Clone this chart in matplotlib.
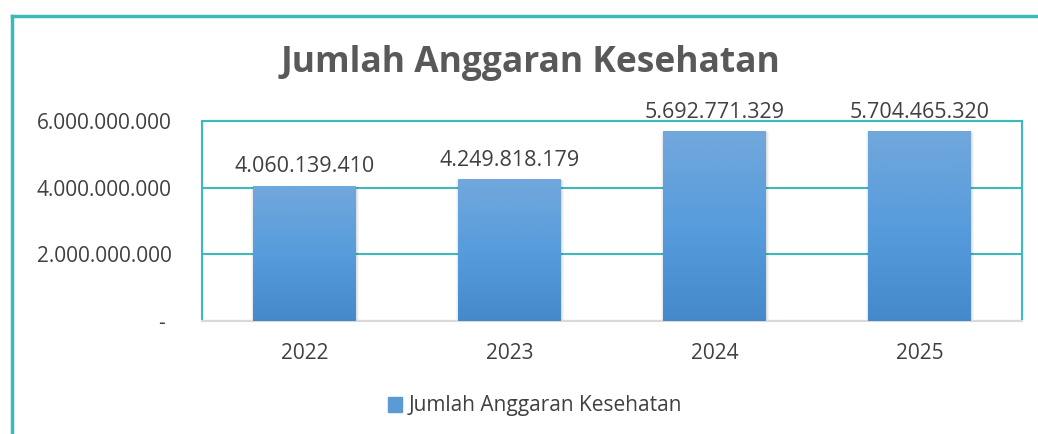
import matplotlib.pyplot as plt
import matplotlib.patches as mpatches
import numpy as np
from matplotlib.colors import LinearSegmentedColormap

years = ['2022', '2023', '2024', '2025']
anggaran = [4060139410, 4249818179, 5692771329, 5704465320]
yticks = [0, 2000000000, 4000000000, 6000000000]
ytick_labels = ['- ', '2.000.000.000', '4.000.000.000', '6.000.000.000']

teal = '#3DB8BC'
text_gray = '#404040'

plt.rcParams['font.family'] = ['Open Sans', 'DejaVu Sans']

fig = plt.figure(figsize=(10.38, 4.34), dpi=100)

# outer frame (left and top only)
fig.add_artist(plt.Line2D([12 / 1038, 12 / 1038], [0, 1 - 16 / 434], color=teal, lw=2.5))
fig.add_artist(plt.Line2D([12 / 1038, 1], [1 - 16 / 434, 1 - 16 / 434], color=teal, lw=2.5))

ax = fig.add_axes([202 / 1038, 1 - 321 / 434, 820 / 1038, 200 / 434])
x = np.arange(len(years))
bars = ax.bar(x, anggaran, width=0.5, color='#5B9BD5', zorder=3)

cmap = LinearSegmentedColormap.from_list('grad', ['#4589CB', '#579CDC', '#72A8DC'])
grad = np.linspace(0, 1, 256).reshape(-1, 1)
for b in bars:
    bx, by = b.get_x(), b.get_y()
    w, h = b.get_width(), b.get_height()
    # soft shadow around the bar
    for k, a in [(0.022, 0.035), (0.014, 0.045), (0.007, 0.06)]:
        ax.add_patch(mpatches.Rectangle((bx - k * 0.5, by), w + k * 1.3, h - 30000000, color='#000000',
                                        alpha=a, zorder=2, lw=0))
    im = ax.imshow(grad, cmap=cmap, aspect='auto', extent=(bx, bx + w, by, by + h),
                   origin='lower', zorder=4)
    im.set_clip_path(b)

for xi, v in zip(x, anggaran):
    label = f'{v:,}'.replace(',', '.')
    ax.annotate(label, (xi, v), xytext=(0, 6), textcoords='offset points', ha='center', va='bottom',
                fontsize=15.5, color=text_gray, annotation_clip=False)

ax.set_xlim(-0.5, len(years) - 0.5)
ax.set_ylim(0, 6000000000)
ax.set_xticks(x)
ax.set_xticklabels(years, fontsize=15, color=text_gray)
ax.set_yticks(yticks)
ax.set_yticklabels(ytick_labels, fontsize=15, color=text_gray)
ax.tick_params(length=0, pad=22)
ax.tick_params(axis='x', pad=16)
ax.grid(axis='y', color=teal, lw=1.5, zorder=1)

for side in ['left', 'right', 'top']:
    ax.spines[side].set_color(teal)
    ax.spines[side].set_linewidth(1.5)
ax.spines['bottom'].set_color('#D9D9D9')
ax.spines['bottom'].set_linewidth(1.5)

fig.text(530 / 1038, 1 - 63 / 434, 'Jumlah Anggaran Kesehatan', ha='center', va='center',
         fontsize=25.5, fontweight='bold', color='#595959')

handle = mpatches.Patch(color='#5B9BD5')
fig.legend([handle], ['Jumlah Anggaran Kesehatan'], loc='center', bbox_to_anchor=(535 / 1038, 1 - 406 / 434),
           frameon=False, fontsize=15, labelcolor=text_gray, handlelength=0.7, handleheight=0.7,
           handletextpad=0.3)

fig.savefig('out.png', dpi=100)
